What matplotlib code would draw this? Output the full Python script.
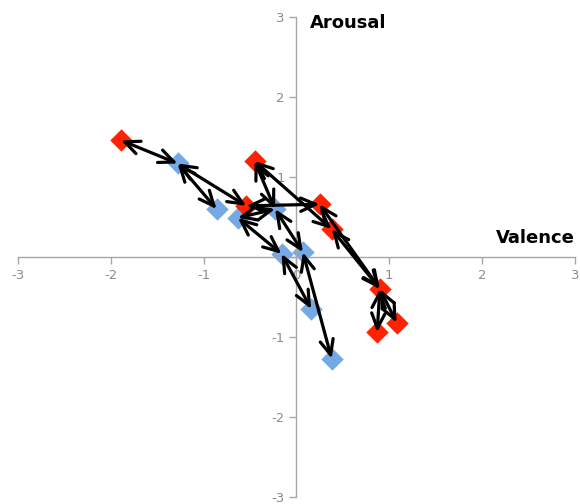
import numpy as np
import matplotlib.pyplot as plt

plt.rcParams['axes.unicode_minus'] = False

# points (valence, arousal)
red_x = [-1.89, -0.45, -0.54, 0.25, 0.38, 0.90, 0.87, 1.08]
red_y = [1.46, 1.20, 0.64, 0.66, 0.35, -0.40, -0.94, -0.82]
blue_x = [-1.28, -0.86, -0.63, -0.23, -0.16, 0.07, 0.16, 0.38]
blue_y = [1.17, 0.60, 0.49, 0.60, 0.04, 0.06, -0.65, -1.27]

# arrows between points: (set, index) -> (set, index)
links = [('r', 0, 'b', 0), ('b', 0, 'b', 1), ('b', 0, 'r', 2), ('r', 2, 'r', 3),
         ('r', 1, 'b', 3), ('r', 1, 'r', 4), ('b', 2, 'b', 3), ('b', 2, 'b', 4),
         ('b', 3, 'b', 5), ('b', 4, 'b', 6), ('b', 5, 'b', 7), ('r', 3, 'r', 5),
         ('r', 4, 'r', 5), ('r', 5, 'r', 6), ('r', 5, 'r', 7)]

ticks = [-3, -2, -1, 0, 1, 2, 3]

def pt(s, i):
    if s == 'r':
        return red_x[i], red_y[i]
    return blue_x[i], blue_y[i]

fig = plt.figure(figsize=(5.8, 5.04), dpi=100)
ax = fig.add_axes([0.031, 0.014, 0.96, 0.952])

ax.scatter(blue_x, blue_y, marker='D', s=130, color='#74A9E6', zorder=2, linewidths=0)
ax.scatter(red_x, red_y, marker='D', s=130, color='#FF2200', zorder=2, linewidths=0)

for a, i, b, j in links:
    ax.annotate('', xy=pt(b, j), xytext=pt(a, i),
                arrowprops=dict(arrowstyle='<->,head_length=0.9,head_width=0.4',
                                lw=2.3, color='black', shrinkA=0, shrinkB=0,
                                mutation_scale=12), zorder=3)

ax.set_xlim(-3, 3)
ax.set_ylim(-3, 3)
ax.set_xticks(ticks)
ax.set_yticks(ticks)
for s in ['left', 'bottom']:
    ax.spines[s].set_position('zero')
    ax.spines[s].set_color('#A6A6A6')
    ax.spines[s].set_linewidth(1)
ax.spines['top'].set_visible(False)
ax.spines['right'].set_visible(False)
ax.tick_params(colors='#A6A6A6', labelcolor='#8C8C8C', labelsize=9.5, length=5, width=1)

ax.text(3, 0.12, 'Valence', fontsize=13, fontweight='bold', ha='right', va='bottom')
ax.text(0.15, 3.04, 'Arousal', fontsize=13, fontweight='bold', ha='left', va='top')

fig.savefig('out.png', dpi=100)
